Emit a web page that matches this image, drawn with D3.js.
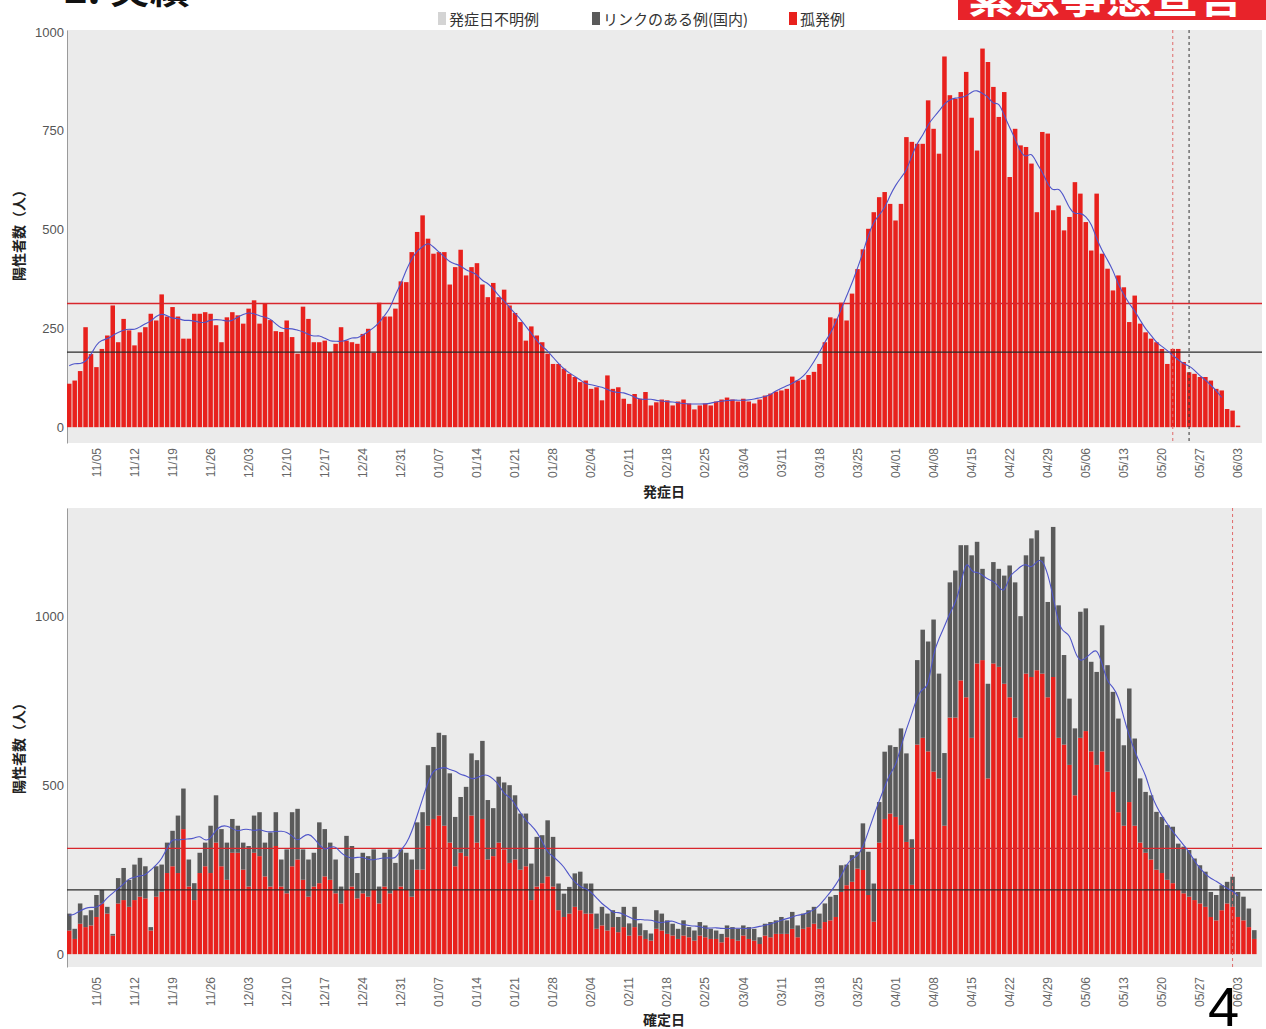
<!DOCTYPE html>
<html>
<head>
<meta charset="utf-8">
<script src="https://cdn.jsdelivr.net/npm/d3@7"></script>
<style>
  body { margin: 0; background: #fff; }
  svg { display: block; font-family: "Liberation Sans", Arial, sans-serif; }
  .jp { font-family: "Noto Sans CJK JP", sans-serif; }
</style>
</head>
<body>
<svg id="chart" width="1266" height="1029"></svg>
<script>
// Days shown: 2020-10-31 .. 2021-06-07
const firstDay = "2020-10-31";
const lastDay = "2021-06-08";

const tickLabels = ["11/05", "11/12", "11/19", "11/26", "12/03", "12/10", "12/17", "12/24", "12/31",
  "01/07", "01/14", "01/21", "01/28", "02/04", "02/11", "02/18", "02/25", "03/04", "03/11", "03/18",
  "03/25", "04/01", "04/08", "04/15", "04/22", "04/29", "05/06", "05/13", "05/20", "05/27", "06/03"];

const legendLabels = ["発症日不明例", "リンクのある例(国内)", "孤発例"];

// upper chart: cases by onset date (発症日)
const onsetCases = [
  110, 118, 142, 253, 185,
  152, 198, 232, 308, 215, 274, 245,
  207, 240, 253, 287, 270, 336, 280,
  304, 280, 224, 224, 287, 287, 291,
  287, 258, 215, 278, 291, 283, 262,
  300, 321, 262, 312, 271, 243, 241,
  270, 228, 186, 305, 274, 215, 215,
  219, 190, 211, 253, 219, 215, 211,
  236, 249, 188, 315, 280, 280, 300,
  369, 367, 443, 494, 536, 477, 439,
  443, 443, 361, 405, 449, 384, 405,
  415, 361, 329, 365, 329, 348, 308,
  289, 266, 219, 255, 232, 215, 186,
  160, 160, 148, 135, 127, 114, 118,
  97, 101, 68, 131, 97, 101, 72,
  59, 84, 72, 89, 55, 63, 70,
  68, 55, 65, 70, 60, 45, 55,
  60, 55, 65, 70, 75, 70, 65,
  72, 65, 60, 70, 80, 85, 90,
  93, 97, 128, 118, 120, 132, 140,
  160, 215, 278, 275, 315, 270, 338,
  400, 450, 502, 544, 582, 595, 565,
  523, 565, 734, 722, 717, 717, 827,
  755, 692, 938, 840, 831, 848, 899,
  783, 700, 958, 924, 861, 785, 848,
  633, 755, 713, 709, 667, 544, 747,
  743, 549, 561, 498, 532, 620, 591,
  519, 447, 591, 439, 401, 346, 384,
  354, 266, 333, 262, 240, 224, 215,
  198, 160, 198, 198, 165, 139, 135,
  127, 127, 118, 97, 93, 46, 42,
  4, 0, 0, 0, 0
];

// lower chart: cases by confirmation date (確定日), isolated (孤発例)
const isolatedCases = [
  70, 45, 90, 80, 85,
  110, 150, 120, 55, 150, 160, 140,
  160, 170, 165, 70, 170, 185, 240,
  260, 240, 370, 200, 160, 240, 260,
  240, 330, 260, 220, 300, 300, 250,
  200, 300, 290, 230, 200, 320, 200,
  180, 260, 280, 220, 170, 200, 210,
  230, 220, 180, 150, 190, 200, 165,
  180, 170, 190, 150, 200, 180, 190,
  200, 190, 170, 250, 250, 380, 400,
  410, 380, 330, 260, 300, 290, 410,
  330, 400, 280, 290, 330, 310, 270,
  280, 250, 260, 160, 200, 210, 230,
  200, 130, 110, 120, 140, 130, 120,
  120, 75, 85, 70, 80, 65, 80,
  55, 80, 55, 45, 40, 75, 70,
  60, 55, 45, 55, 50, 40, 55,
  50, 45, 45, 35, 50, 45, 40,
  55, 45, 40, 30, 55, 50, 60,
  60, 60, 75, 50, 75, 80, 90,
  75, 95, 100, 110, 184, 204, 214,
  253, 249, 175, 96, 330, 400, 416,
  406, 382, 332, 205, 620, 640, 600,
  540, 520, 380, 700, 700, 810, 760,
  640, 860, 870, 520, 860, 850, 800,
  760, 700, 640, 830, 820, 840, 830,
  760, 820, 640, 620, 560, 470, 640,
  660, 600, 560, 600, 540, 480, 420,
  380, 450, 380, 330, 300, 280, 250,
  240, 220, 210, 190, 180, 170, 160,
  150, 140, 110, 100, 130, 150, 140,
  110, 100, 80, 45, 0
];

// lower chart: linked cases (リンクのある例)
const linkedCases = [
  50, 30, 60, 35, 45,
  65, 40, 20, 5, 75, 95, 80,
  105, 115, 95, 10, 90, 80, 90,
  105, 170, 120, 80, 50, 60, 70,
  140, 140, 110, 110, 100, 80, 80,
  120, 110, 130, 100, 160, 100, 80,
  130, 160, 150, 90, 110, 100, 180,
  140, 110, 100, 50, 160, 120, 75,
  120, 120, 120, 50, 100, 130, 80,
  110, 110, 110, 140, 170, 179, 213,
  245, 268, 205, 146, 165, 205, 184,
  244, 231, 176, 142, 195, 198, 230,
  190, 166, 156, 108, 147, 142, 166,
  147, 79, 69, 79, 99, 114, 89,
  89, 45, 55, 50, 50, 45, 60,
  36, 60, 36, 26, 21, 55, 50,
  40, 35, 30, 45, 30, 30, 40,
  35, 30, 25, 25, 35, 35, 35,
  30, 35, 35, 20, 35, 45, 40,
  50, 40, 50, 35, 45, 50, 50,
  45, 55, 70, 65, 79, 61, 79,
  50, 138, 128, 113, 120, 199, 202,
  207, 286, 262, 135, 250, 320, 325,
  450, 310, 215, 400, 435, 400, 450,
  540, 360, 270, 280, 300, 290, 320,
  390, 400, 360, 350, 410, 414, 346,
  282, 444, 392, 265, 196, 198, 373,
  363, 265, 275, 373, 315, 296, 277,
  238, 336, 258, 190, 180, 190, 171,
  166, 162, 167, 137, 138, 138, 123,
  113, 104, 74, 75, 74, 64, 89,
  74, 70, 55, 26, 0
];

// reference levels and marker dates
const refLevels = [313, 190];
const onsetMarkers = ["2021-05-22", "2021-05-25"];
const confirmMarkers = ["2021-06-02"];

const RED = "#e8211d", GREY = "#5a5a5a", LIGHT = "#d4d4d4";
const PANEL = "#ebebeb";

const svg = d3.select("#chart");
const parse = d3.timeParse("%Y-%m-%d");
const keyFmt = d3.timeFormat("%Y-%m-%d");
const labelFmt = d3.timeFormat("%m/%d");

const days = d3.timeDay.range(parse(firstDay), parse(lastDay)).map(keyFmt);
const labelOf = k => labelFmt(parse(k));

const x = d3.scaleBand().domain(days).range([67, 1262]).paddingInner(0.17).paddingOuter(0);
const cx = k => x(k) + x.bandwidth() / 2;

// centred 7-day average of the bars
function movingAvg(values, lastIdx) {
  return values.map((v, i) => ({
    key: days[i],
    v: d3.mean(values.slice(Math.max(0, i - 3), i + 4))
  })).filter((d, i) => i <= lastIdx);
}

function drawPanel(opts) {
  const { y, yTicks, labelTop, axisTitle, titleY, yTitleY } = opts;
  const g = svg.append("g");
  const [y0, y1] = y.range();

  g.append("rect")
    .attr("x", 67).attr("y", y1)
    .attr("width", 1262 - 67).attr("height", y0 - y1)
    .attr("fill", PANEL);

  // y axis
  const ya = g.append("g").attr("transform", "translate(67,0)")
    .call(d3.axisLeft(y).tickValues(yTicks).tickFormat(d3.format("d")).tickSize(0).tickPadding(3));
  ya.select(".domain").attr("stroke", "#9a9a9a");
  ya.selectAll("text").attr("fill", "#555").attr("font-size", 13);

  // x axis (rotated labels)
  const xa = g.append("g").attr("transform", `translate(0,${labelTop})`)
    .call(d3.axisBottom(x)
      .tickValues(days.filter(k => tickLabels.includes(labelOf(k))))
      .tickFormat(labelOf).tickSize(0));
  xa.select(".domain").remove();
  xa.selectAll("text")
    .attr("transform", "rotate(-90)")
    .attr("text-anchor", "end")
    .attr("x", 0).attr("y", 0).attr("dy", "0.35em")
    .attr("fill", "#666").attr("font-size", 12);

  g.append("text").attr("class", "jp")
    .attr("x", 664).attr("y", titleY)
    .attr("text-anchor", "middle")
    .attr("font-size", 14).attr("font-weight", "bold").attr("fill", "#222")
    .text(axisTitle);

  g.append("text").attr("class", "jp")
    .attr("transform", `translate(24,${yTitleY}) rotate(-90)`)
    .attr("text-anchor", "middle")
    .attr("font-size", 14).attr("font-weight", "bold").attr("fill", "#222")
    .text("陽性者数（人）");

  return g;
}

function drawOverlays(g, y, avg, markers) {
  const [y0, y1] = y.range();

  g.selectAll(".ref")
    .data(refLevels)
    .enter().append("line")
    .attr("x1", 67).attr("x2", 1262)
    .attr("y1", d => y(d)).attr("y2", d => y(d))
    .attr("stroke", (d, i) => i === 0 ? "#d8262c" : "#2b2b2b")
    .attr("stroke-width", 1.3);

  g.append("path")
    .datum(avg)
    .attr("fill", "none")
    .attr("stroke", "#4f55c9")
    .attr("stroke-width", 1.1)
    .attr("d", d3.line().x(d => cx(d.key)).y(d => y(d.v)).curve(d3.curveBasis));

  g.selectAll(".marker")
    .data(markers)
    .enter().append("line")
    .attr("x1", d => cx(d)).attr("x2", d => cx(d))
    .attr("y1", y1).attr("y2", y0)
    .attr("stroke", (d, i) => i === 0 ? "#e06a6a" : "#333")
    .attr("stroke-width", 1)
    .attr("stroke-dasharray", "3,3");
}

// ---- upper chart ----
const yTop = d3.scaleLinear().domain([-40, 1005]).range([443, 30]);
const gTop = drawPanel({
  y: yTop, yTicks: [0, 250, 500, 750, 1000], labelTop: 448,
  axisTitle: "発症日", titleY: 497, yTitleY: 232
});

gTop.selectAll(".bar")
  .data(onsetCases.map((v, i) => ({ key: days[i], v })).filter(d => d.v > 0))
  .enter().append("rect")
  .attr("x", d => x(d.key))
  .attr("width", x.bandwidth())
  .attr("y", d => yTop(d.v))
  .attr("height", d => yTop(0) - yTop(d.v))
  .attr("fill", RED);

drawOverlays(gTop, yTop, movingAvg(onsetCases, 212), onsetMarkers);

// ---- lower chart ----
const yBot = d3.scaleLinear().domain([-38, 1320]).range([967, 508]);
const gBot = drawPanel({
  y: yBot, yTicks: [0, 500, 1000], labelTop: 977,
  axisTitle: "確定日", titleY: 1025, yTitleY: 745
});

const stackRows = days.map((k, i) => ({ key: k, isolated: isolatedCases[i], linked: linkedCases[i] }));
const stacked = d3.stack().keys(["isolated", "linked"])(stackRows);
const colour = { isolated: RED, linked: GREY };

gBot.selectAll(".layer")
  .data(stacked)
  .enter().append("g")
  .attr("fill", d => colour[d.key])
  .selectAll("rect")
  .data(d => d.filter(s => s[1] > s[0]))
  .enter().append("rect")
  .attr("x", d => x(d.data.key))
  .attr("width", x.bandwidth())
  .attr("y", d => yBot(d[1]))
  .attr("height", d => yBot(d[0]) - yBot(d[1]));

const totals = isolatedCases.map((v, i) => v + linkedCases[i]);
drawOverlays(gBot, yBot, movingAvg(totals, 215), confirmMarkers);

// ---- legend ----
const legendPos = [438, 592, 789];
const legendFill = [LIGHT, GREY, RED];
const lg = svg.append("g").selectAll("g")
  .data(legendLabels)
  .enter().append("g")
  .attr("transform", (d, i) => `translate(${legendPos[i]},0)`);
lg.append("rect").attr("x", 0).attr("y", 12).attr("width", 8).attr("height", 13)
  .attr("fill", (d, i) => legendFill[i]);
lg.append("text").attr("class", "jp")
  .attr("x", 11).attr("y", 25)
  .attr("font-size", 15).attr("fill", "#333")
  .text(d => d);

// ---- page decorations (cut at the top edge, as in the source page) ----
svg.append("text").attr("class", "jp")
  .attr("x", 64).attr("y", 3)
  .attr("font-size", 40).attr("font-weight", "bold").attr("fill", "#111")
  .text("2. 実績");

svg.append("rect").attr("x", 958).attr("y", 0).attr("width", 308).attr("height", 20).attr("fill", "#e8232a");
svg.append("text").attr("class", "jp")
  .attr("x", 968).attr("y", 12)
  .attr("font-size", 46).attr("font-weight", "bold").attr("fill", "#fff")
  .text("緊急事態宣言");

svg.append("text")
  .attr("x", 1208).attr("y", 1026)
  .attr("font-size", 56).attr("fill", "#000")
  .text("4");
</script>
</body>
</html>
